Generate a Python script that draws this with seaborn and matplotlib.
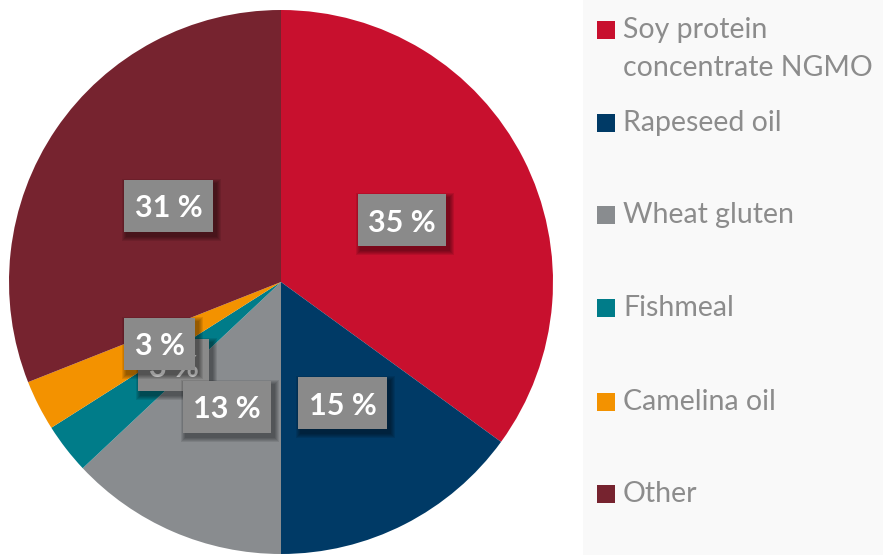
import matplotlib
matplotlib.use("Agg")
import matplotlib.pyplot as plt
from matplotlib.patches import Rectangle
import seaborn as sns

sns.set_theme(style="white")
plt.rcParams['font.family'] = ['Lato', 'DejaVu Sans']
plt.rcParams['hatch.color'] = '#999999'
plt.rcParams['hatch.linewidth'] = 1.2

# data
categories = ["Soy protein\nconcentrate NGMO", "Rapeseed oil", "Wheat gluten",
              "Fishmeal", "Camelina oil", "Other"]
shares = [35, 15, 13, 3, 3, 31]
colors = ["#C8102E", "#003A66", "#898C8F", "#007C89", "#F39200", "#76232F"]

W, H = 883, 555
fig = plt.figure(figsize=(W / 100, H / 100), dpi=100)
ax = fig.add_axes([0, 0, 1, 1])

# legend background panel
ax.add_patch(Rectangle((583, 0), W - 583, H, facecolor='#F9F9F9', edgecolor='none', zorder=0))

wedges, texts, autotexts = ax.pie(
    shares, colors=colors, startangle=90, counterclock=False,
    center=(281, H - 282), radius=272, pctdistance=0.5,
    autopct=lambda p: f"{p:.0f} %", wedgeprops=dict(linewidth=0),
    textprops=dict(color='white', fontsize=22, fontweight='bold'))

ax.set_xlim(0, W)
ax.set_ylim(0, H)
ax.set_aspect('equal')
ax.axis('off')

# label boxes with soft shadow; 13 % above fishmeal, camelina on top
fig.canvas.draw()
rend = fig.canvas.get_renderer()
order_z = [5, 6, 8, 7, 9, 5]
for t, z in zip(autotexts, order_z):
    x, y = t.get_position()
    bb = t.get_window_extent(rend)
    w, h = bb.width + 21, 52
    for k in range(5):
        g = 5 - k
        ax.add_patch(Rectangle((x - w / 2 + 3 - g, y - h / 2 - 4 - g), w + 2 * g, h + 2 * g,
                               facecolor='black', alpha=0.09, edgecolor='none', zorder=z - 0.2))
    ax.add_patch(Rectangle((x - w / 2, y - h / 2), w, h, facecolor='#8A8A8A',
                           edgecolor='none', hatch='..', zorder=z - 0.1))
    t.set_zorder(z)
    t.set_va('center_baseline')

# legend
ys = [30, 123, 215, 308, 402, 494]
for lab, col, y in zip(categories, colors, ys):
    ax.add_patch(Rectangle((597, H - y - 9), 18, 18, facecolor=col, edgecolor='none', zorder=3))
    for i, line in enumerate(lab.split("\n")):
        ax.text(623, H - y - i * 38, line, fontsize=20.5, color='#8C8C8C',
                va='center', ha='left', zorder=3)

fig.savefig("out.png", dpi=100)
